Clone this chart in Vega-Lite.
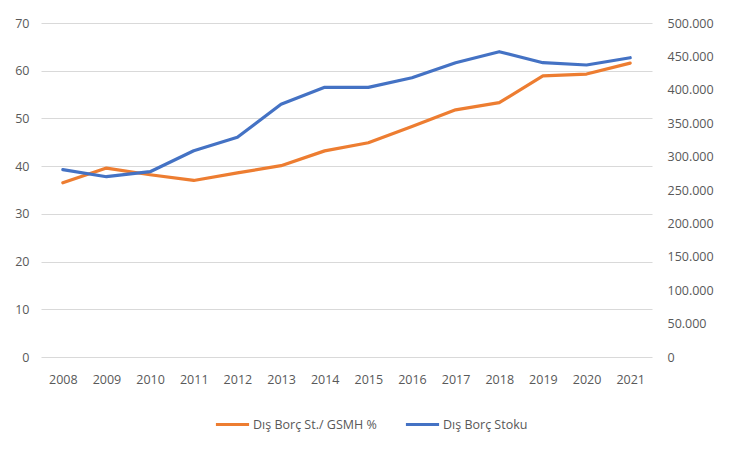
{
  "$schema": "https://vega.github.io/schema/vega-lite/v6.json",
  "width": 611,
  "height": 334,
  "autosize": {"type": "none"},
  "padding": {"left": 41, "top": 23, "right": 78, "bottom": 92},
  "background": "white",
  "config": {
    "view": {"stroke": null},
    "font": "Open Sans",
    "axis": {"labelColor": "#595959", "labelFont": "Open Sans", "labelFontSize": 12.5, "domain": false, "ticks": false},
    "legend": {"labelColor": "#595959", "labelFont": "Open Sans", "labelFontSize": 12.5}
  },
  "data": {
    "values": [
      {"year": "2008", "ratio": 36.5, "stock": 280400},
      {"year": "2009", "ratio": 39.6, "stock": 269900},
      {"year": "2010", "ratio": 38.2, "stock": 277400},
      {"year": "2011", "ratio": 37.0, "stock": 308800},
      {"year": "2012", "ratio": 38.6, "stock": 328900},
      {"year": "2013", "ratio": 40.1, "stock": 378300},
      {"year": "2014", "ratio": 43.2, "stock": 403700},
      {"year": "2015", "ratio": 44.9, "stock": 403700},
      {"year": "2016", "ratio": 48.3, "stock": 418100},
      {"year": "2017", "ratio": 51.8, "stock": 440600},
      {"year": "2018", "ratio": 53.3, "stock": 457000},
      {"year": "2019", "ratio": 58.9, "stock": 440600},
      {"year": "2020", "ratio": 59.3, "stock": 437100},
      {"year": "2021", "ratio": 61.6, "stock": 448000}
    ]
  },
  "encoding": {
    "x": {
      "field": "year", "type": "ordinal", "title": null,
      "scale": {"type": "point", "padding": 0.5},
      "axis": {"labelAngle": 0, "labelPadding": 16, "grid": false}
    }
  },
  "layer": [
    {
      "mark": {"type": "line", "strokeWidth": 3.2, "strokeCap": "round", "strokeJoin": "round"},
      "encoding": {
        "y": {
          "field": "ratio", "type": "quantitative", "title": null,
          "scale": {"domain": [0, 70], "nice": false},
          "axis": {"values": [0, 10, 20, 30, 40, 50, 60, 70], "grid": true, "gridColor": "#d9d9d9", "gridWidth": 1.2, "labelPadding": 12}
        },
        "color": {
          "datum": "Dış Borç St./ GSMH %",
          "type": "nominal",
          "scale": {"domain": ["Dış Borç St./ GSMH %", "Dış Borç Stoku"], "range": ["#ED7D31", "#4472C4"]},
          "legend": {
            "title": null, "orient": "none", "direction": "horizontal",
            "legendX": 173, "legendY": 383,
            "symbolType": "stroke", "symbolSize": 1100, "symbolStrokeWidth": 3,
            "columnPadding": 22, "labelOffset": 2
          }
        }
      }
    },
    {
      "mark": {"type": "line", "strokeWidth": 3.2, "strokeCap": "round", "strokeJoin": "round"},
      "encoding": {
        "y": {
          "field": "stock", "type": "quantitative", "title": null,
          "scale": {"domain": [0, 500000], "nice": false},
          "axis": {
            "orient": "right", "grid": false, "labelPadding": 15,
            "values": [0, 50000, 100000, 150000, 200000, 250000, 300000, 350000, 400000, 450000, 500000],
            "labelExpr": "replace(format(datum.value, ','), ',', '.')"
          }
        },
        "color": {"datum": "Dış Borç Stoku", "type": "nominal"}
      }
    }
  ],
  "resolve": {"scale": {"y": "independent"}}
}
